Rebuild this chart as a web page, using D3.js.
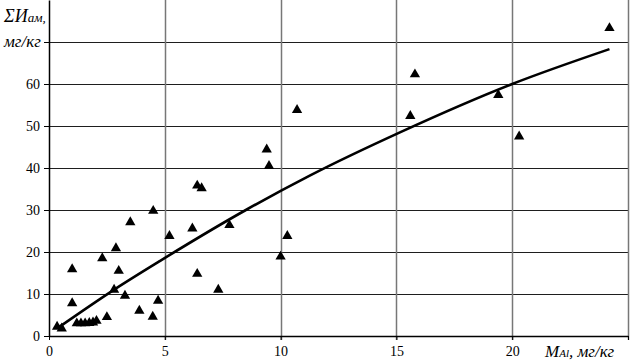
<!DOCTYPE html>
<html>
<head>
<meta charset="utf-8">
<script src="https://cdn.jsdelivr.net/npm/d3@7"></script>
<style>
  body { margin: 0; background: #fff; }
  svg { display: block; }
  svg text { font-family: "Liberation Serif", "Times New Roman", serif; }
</style>
</head>
<body>
<div id="chart"></div>
<script>
// Scatter points: Al content (mg/kg) vs sum of amino acids (mg/kg)
const pointsX = [0.35, 0.55, 1.2, 1.38, 1.56, 1.74, 1.9, 2.05, 2.5, 1.0, 3.28, 2.81, 3.9, 4.48, 4.71,
                 1.0, 3.01, 2.3, 2.89, 3.51, 4.5, 5.2, 6.19, 6.4, 6.59, 7.79, 6.4, 7.31, 9.4, 9.5,
                 10.0, 10.29, 10.71, 15.8, 15.6, 19.4, 20.3, 24.2];
const pointsY = [2.2, 1.8, 3.0, 3.0, 3.0, 3.1, 3.2, 3.6, 4.5, 7.8, 9.6, 11.0, 6.0, 4.6, 8.4,
                 15.9, 15.5, 18.5, 20.9, 27.1, 29.8, 23.8, 25.6, 35.8, 35.2, 26.4, 14.8, 11.0, 44.4, 40.5,
                 18.9, 23.8, 53.8, 62.3, 52.4, 57.4, 47.5, 73.3];

// Trend curve
const trendX = [0.4, 2.8, 4.8, 8.5, 11.3, 15.2, 20, 24.2];
const trendY = [2.0, 11, 17.9, 30, 38.3, 48.6, 60, 68.3];

const xTicks = [0, 5, 10, 15, 20, 25];
const xTickLabels = ["0", "5", "10", "15", "20", ""];
const yTicks = [0, 10, 20, 30, 40, 50, 60, 70];
const yTickLabels = ["0", "10", "20", "30", "40", "50", "60", ""];

const W = 642, H = 361;
const plot = {left: 49, right: 628, top: 0, bottom: 336};

const svg = d3.select("#chart")
    .append("svg")
    .attr("width", W)
    .attr("height", H);

const x = d3.scaleLinear().domain([0, 25]).range([plot.left, plot.right]);
const y = d3.scaleLinear().domain([0, 80]).range([plot.bottom, plot.top]);

// Horizontal grid
svg.append("g")
    .selectAll("line")
    .data(yTicks.filter(d => d > 0))
    .join("line")
    .attr("x1", plot.left).attr("x2", plot.right)
    .attr("y1", d => Math.round(y(d)) + 0.5).attr("y2", d => Math.round(y(d)) + 0.5)
    .attr("stroke", "#1e1e1e")
    .attr("stroke-width", 1.2);

// Vertical grid + right border
svg.append("g")
    .selectAll("line")
    .data(xTicks.filter(d => d > 0))
    .join("line")
    .attr("x1", d => Math.round(x(d)) + 0.5).attr("x2", d => Math.round(x(d)) + 0.5)
    .attr("y1", plot.top).attr("y2", plot.bottom + 4)
    .attr("stroke", "#777")
    .attr("stroke-width", 1.5);

// Axes
const xAxis = svg.append("g")
    .attr("transform", `translate(0,${plot.bottom})`)
    .call(d3.axisBottom(x).tickValues(xTicks).tickFormat((d, i) => xTickLabels[i]).tickSize(4).tickSizeOuter(0));
xAxis.select(".domain").attr("stroke", "#000").attr("stroke-width", 1.5);
xAxis.selectAll("text").style("font-size", "14px").attr("fill", "#000").attr("dy", "0.95em");

const yAxis = svg.append("g")
    .attr("transform", `translate(${plot.left},0)`)
    .call(d3.axisLeft(y).tickValues(yTicks).tickFormat((d, i) => yTickLabels[i]).tickSize(5).tickSizeOuter(0));
yAxis.select(".domain").attr("stroke", "#000").attr("stroke-width", 1.5);
yAxis.selectAll("text").style("font-size", "14px").attr("fill", "#000").attr("x", -9);

// Trend line
const trend = trendX.map((v, i) => [v, trendY[i]]);
svg.append("path")
    .datum(trend)
    .attr("fill", "none")
    .attr("stroke", "#000")
    .attr("stroke-width", 2.6)
    .attr("d", d3.line().x(d => x(d[0])).y(d => y(d[1])).curve(d3.curveMonotoneX));

// Triangles
const pts = pointsX.map((v, i) => [v, pointsY[i]]);
svg.append("g")
    .selectAll("path")
    .data(pts)
    .join("path")
    .attr("transform", d => `translate(${x(d[0])},${y(d[1])})`)
    .attr("d", d3.symbol().type(d3.symbolTriangle).size(46))
    .attr("fill", "#000");

// Y title
const yTitle = svg.append("text")
    .attr("x", 4).attr("y", 22)
    .attr("font-style", "italic")
    .attr("font-size", 18);
yTitle.append("tspan").text("ΣИ");
yTitle.append("tspan").attr("font-size", 13).text("ам,");
svg.append("text")
    .attr("x", 4).attr("y", 47)
    .attr("font-style", "italic")
    .attr("font-size", 17)
    .text("мг/кг");

// X title
const xTitle = svg.append("text")
    .attr("x", 545).attr("y", 357)
    .attr("font-style", "italic")
    .attr("font-size", 17);
xTitle.append("tspan").text("M");
xTitle.append("tspan").attr("font-size", 11).text("Al");
xTitle.append("tspan").text(", мг/кг");
</script>
</body>
</html>
